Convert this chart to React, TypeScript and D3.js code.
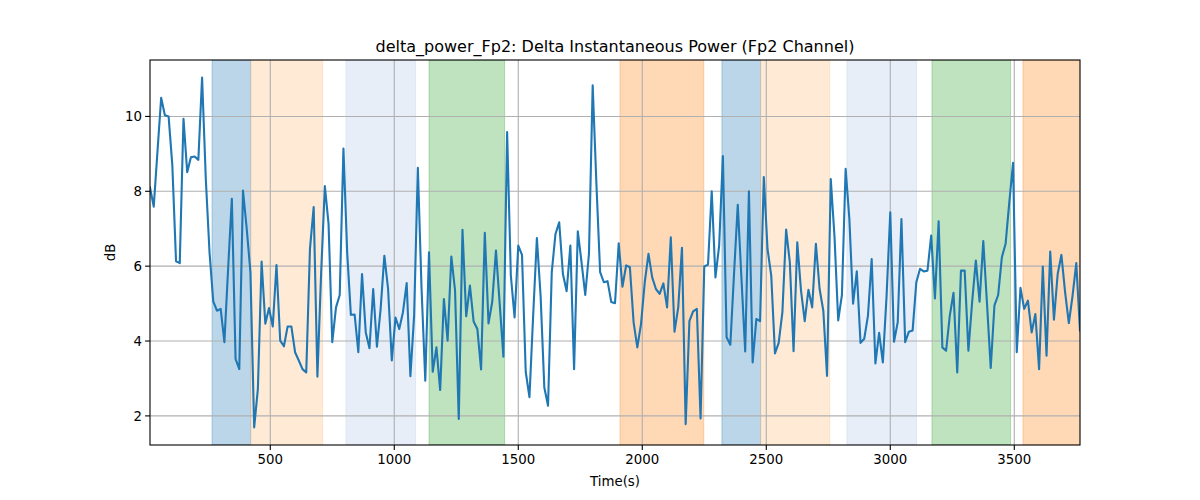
import * as d3 from "d3";

// sample times are evenly spaced, 15 s apart
const step = 15;
const firstTime = 15;

// delta power in dB, one value per sample
const power = [
	8.1, 7.59, 9.05, 10.5, 10.03, 10.0, 8.7, 6.13, 6.08, 9.94,
	8.51, 8.91, 8.93, 8.84, 11.04, 8.33, 6.37, 5.06, 4.81, 4.86,
	3.97, 5.93, 7.8, 3.52, 3.25, 8.02, 7.0, 5.84, 1.69, 2.72,
	6.12, 4.46, 4.88, 4.39, 6.03, 4.01, 3.86, 4.39, 4.39, 3.7,
	3.48, 3.25, 3.16, 6.46, 7.58, 3.05, 5.8, 8.14, 7.13, 3.97,
	4.9, 5.23, 9.14, 6.37, 4.7, 4.71, 3.7, 5.79, 4.23, 3.81,
	5.39, 3.85, 4.86, 6.28, 5.39, 3.48, 4.63, 4.32, 4.77, 5.55,
	3.06, 4.68, 8.63, 5.39, 2.94, 6.37, 3.18, 3.83, 2.69, 5.12,
	4.01, 6.26, 5.35, 1.92, 6.97, 4.66, 5.48, 4.52, 4.32, 3.24,
	6.89, 4.47, 5.05, 6.42, 5.0, 3.58, 9.58, 5.75, 4.63, 6.55,
	6.3, 3.18, 2.5, 4.68, 6.75, 5.21, 2.76, 2.27, 5.84, 6.86,
	7.17, 5.79, 5.33, 6.55, 3.25, 6.93, 6.11, 5.23, 6.33, 10.83,
	8.2, 5.84, 5.57, 5.6, 5.04, 5.01, 6.61, 5.45, 6.02, 5.97,
	4.5, 3.83, 4.46, 5.57, 6.33, 5.7, 5.39, 5.26, 5.54, 4.9,
	6.77, 4.25, 4.9, 6.49, 1.78, 4.53, 4.79, 4.86, 1.93, 5.99,
	6.04, 8.0, 5.7, 6.55, 8.94, 4.1, 3.9, 5.8, 7.64, 5.66,
	3.72, 8.0, 3.43, 4.59, 4.53, 8.38, 6.46, 5.75, 3.67, 3.95,
	4.77, 6.98, 6.1, 3.73, 6.64, 5.35, 4.53, 5.37, 4.9, 6.6,
	5.39, 4.81, 3.07, 8.33, 6.8, 4.55, 5.23, 8.6, 7.26, 5.0,
	5.86, 3.95, 4.06, 4.68, 6.19, 3.4, 4.22, 3.43, 5.2, 7.44,
	3.98, 4.5, 7.26, 3.97, 4.25, 4.28, 5.57, 5.93, 5.86, 5.88,
	6.82, 5.14, 7.2, 3.83, 3.74, 4.68, 5.29, 3.16, 5.88, 5.88,
	3.74, 5.04, 6.15, 5.05, 6.67, 5.0, 3.28, 4.95, 5.23, 6.24,
	6.6, 7.71, 8.76, 3.7, 5.42, 4.86, 5.08, 4.23, 4.72, 3.25,
	5.99, 3.61, 6.39, 4.57, 5.79, 6.3, 5.3, 4.48, 5.21, 6.08,
	4.28,
];

// shaded stages
const bandStart = [265, 421, 805, 1140, 1910, 2321, 2477, 2825, 3168, 3535];
const bandEnd = [421, 711, 1086, 1445, 2248, 2477, 2756, 3106, 3485, 3800];
const bandColor = [
	"#1f77b4", "#ffbb78", "#aec7e8", "#2ca02c", "#ff7f0e",
	"#1f77b4", "#ffbb78", "#aec7e8", "#2ca02c", "#ff7f0e",
];

const xTicks = [500, 1000, 1500, 2000, 2500, 3000, 3500];
const yTicks = [2, 4, 6, 8, 10];

const W = 1200;
const H = 500;
const left = 150;
const right = 1080;
const top = 60;
const bottom = 445;
const font = "'DejaVu Sans', sans-serif";

export default function App() {
	const times = power.map((_, i) => firstTime + i * step);
	const xMin = times[0];
	const xMax = times[times.length - 1];

	const lo = d3.min(power) as number;
	const hi = d3.max(power) as number;
	const pad = (hi - lo) * 0.05;

	const x = d3.scaleLinear().domain([xMin, xMax]).range([left, right]);
	const y = d3.scaleLinear().domain([lo - pad, hi + pad]).range([bottom, top]);

	const line = d3
		.line<number>()
		.x((_, i) => x(times[i]))
		.y((d) => y(d));

	return (
		<svg
			width={W}
			height={H}
			style={{ position: "absolute", left: 0, top: 0, background: "#fff" }}
			fontFamily={font}
		>
			<defs>
				<clipPath id="plot">
					<rect x={left} y={top} width={right - left} height={bottom - top} />
				</clipPath>
			</defs>

			<g clipPath="url(#plot)">
				{bandStart.map((s, i) => (
					<rect
						key={i}
						x={x(s)}
						y={top}
						width={x(bandEnd[i]) - x(s)}
						height={bottom - top}
						fill={bandColor[i]}
						fillOpacity={0.3}
						stroke={bandColor[i]}
						strokeOpacity={0.3}
						strokeWidth={1}
					/>
				))}

				{/* grid */}
				{xTicks.map((t) => (
					<line
						key={"gx" + t}
						x1={x(t)}
						x2={x(t)}
						y1={top}
						y2={bottom}
						stroke="#b0b0b0"
						strokeWidth={1.1}
					/>
				))}
				{yTicks.map((t) => (
					<line
						key={"gy" + t}
						x1={left}
						x2={right}
						y1={y(t)}
						y2={y(t)}
						stroke="#b0b0b0"
						strokeWidth={1.1}
					/>
				))}

				<path
					d={line(power) ?? ""}
					fill="none"
					stroke="#1f77b4"
					strokeWidth={2.1}
					strokeLinejoin="round"
					strokeLinecap="square"
				/>
			</g>

			{/* axes frame */}
			<rect
				x={left}
				y={top}
				width={right - left}
				height={bottom - top}
				fill="none"
				stroke="#000"
				strokeWidth={1.1}
			/>

			{xTicks.map((t) => (
				<g key={"tx" + t}>
					<line x1={x(t)} x2={x(t)} y1={bottom} y2={bottom + 4.9} stroke="#000" strokeWidth={1.1} />
					<text x={x(t)} y={bottom + 19} textAnchor="middle" fontSize={13.33} fill="#000">
						{t}
					</text>
				</g>
			))}
			{yTicks.map((t) => (
				<g key={"ty" + t}>
					<line x1={left - 4.9} x2={left} y1={y(t)} y2={y(t)} stroke="#000" strokeWidth={1.1} />
					<text
						x={left - 8}
						y={y(t)}
						dy="0.35em"
						textAnchor="end"
						fontSize={13.33}
						fill="#000"
					>
						{t}
					</text>
				</g>
			))}

			<text x={(left + right) / 2} y={486} textAnchor="middle" fontSize={13.33} fill="#000">
				Time(s)
			</text>
			<text
				transform={`translate(114.5, ${(top + bottom) / 2}) rotate(-90)`}
				textAnchor="middle"
				fontSize={13.33}
				fill="#000"
			>
				dB
			</text>
			<text x={(left + right) / 2} y={52} textAnchor="middle" fontSize={16} fill="#000">
				delta_power_Fp2: Delta Instantaneous Power (Fp2 Channel)
			</text>
		</svg>
	);
}
